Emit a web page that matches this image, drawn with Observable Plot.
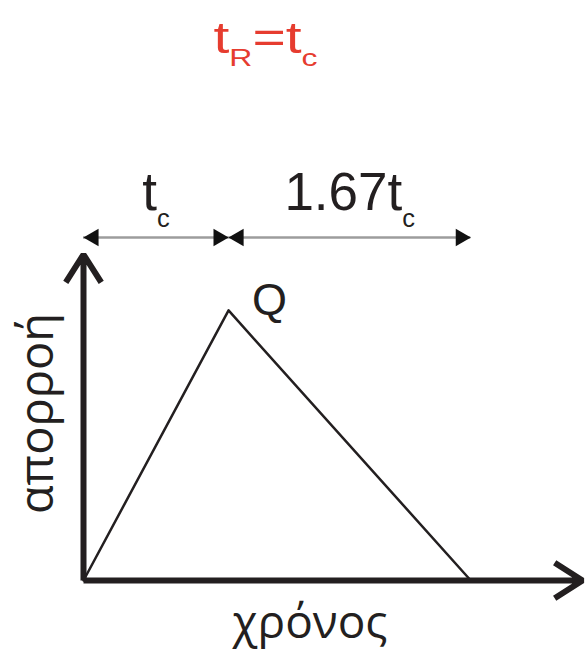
<!DOCTYPE html>
<html><head><meta charset="utf-8">
<script src="https://cdn.jsdelivr.net/npm/d3@7"></script>
<script src="https://cdn.jsdelivr.net/npm/@observablehq/plot@0.6"></script>
<style>html,body{margin:0;padding:0;background:#fff}</style>
</head><body><div id="chart"></div>
<script>
// Triangular hydrograph: time in units of t_c, discharge relative to peak Q
const times = [0, 1, 2.67];
const flows = [0, 1, 0];
// Dimension arrows above the hydrograph
const dimStarts = [0, 1];
const dimEnds = [1, 2.67];
const dimLabels = ["t_c", "1.67t_c"];
// Texts
const titleText = "t_R=t_c";
const peakLabel = "Q";
const xLabel = "χρόνος";
const yLabel = "απορροή";

// axis extents (data units)
const xMax = 3.44, yMax = 1.207;
const dimLevel = 1.27, labelLevel = 1.37;

const hydro = times.map((t, i) => ({t, q: flows[i]}));
const dims = dimStarts.map((s, i) => ({start: s, end: dimEnds[i], label: dimLabels[i]}));
const axes = [
  {x1: 0, y1: 0, x2: xMax, y2: 0},
  {x1: 0, y1: 0, x2: 0, y2: yMax}
];
const ink = "#231f20";

const plot = Plot.plot({
  width: 587, height: 652,
  marginLeft: 83, marginRight: 5, marginTop: 254, marginBottom: 72,
  x: {domain: [0, xMax], axis: null},
  y: {domain: [0, yMax], axis: null},
  style: {background: "#fff", fontFamily: "'Liberation Sans', Arial, sans-serif", color: ink},
  marks: [
    Plot.line(hydro, {x: "t", y: "q", stroke: ink, strokeWidth: 2.5}),
    Plot.arrow(axes, {x1: "x1", y1: "y1", x2: "x2", y2: "y2", stroke: ink, strokeWidth: 6, headLength: 8.25, headAngle: 65, strokeLinecap: "butt", strokeLinejoin: "miter"}),
    Plot.ruleY(dims, {y: () => dimLevel, x1: "start", x2: "end", stroke: "#9c9c9c", strokeWidth: 2.5}),
    Plot.dot(dims, {x: "start", y: () => dimLevel, symbol: "triangle", rotate: -90, dx: 10, r: 6.5, fill: "#111", stroke: "none"}),
    Plot.dot(dims, {x: "end", y: () => dimLevel, symbol: "triangle", rotate: 90, dx: -10, r: 6.5, fill: "#111", stroke: "none"}),
    Plot.text(dims, {x: d => (d.start + d.end) / 2, y: () => labelLevel, text: "label", fontSize: 53, lineAnchor: "bottom", fill: ink, className: "sub"}),
    Plot.text([hydro[1]], {x: "t", y: "q", text: () => peakLabel, fontSize: 45, dx: 41, dy: -10, fill: ink}),
    Plot.text([titleText], {frameAnchor: "top-left", text: d => d, textAnchor: "start", lineAnchor: "bottom", dx: 130, dy: -202, fontSize: 44, fill: "#e63c2f", className: "sub title"}),
    Plot.text([xLabel], {frameAnchor: "bottom", text: d => d, textAnchor: "middle", lineAnchor: "bottom", dx: -23, dy: 57, fontSize: 46, fontFamily: "'Open Sans', sans-serif", fill: ink}),
    Plot.text([yLabel], {frameAnchor: "left", text: d => d, textAnchor: "middle", rotate: -90, lineAnchor: "bottom", dx: -31, dy: -4, fontSize: 47, fontFamily: "'Open Sans', sans-serif", fill: ink})
  ]
});
document.getElementById("chart").appendChild(plot);

// render "_x" as subscripts
plot.querySelectorAll("g.sub text").forEach(t => {
  const s = t.textContent;
  const fs = parseFloat(getComputedStyle(t).fontSize);
  const isTitle = t.parentNode.classList.contains("title");
  const ratio = isTitle ? 0.56 : 0.48;
  const parts = s.split(/_(.)/);
  t.textContent = "";
  let shifted = false;
  parts.forEach((p, i) => {
    if (!p) return;
    const ts = document.createElementNS("http://www.w3.org/2000/svg", "tspan");
    ts.textContent = p;
    if (i % 2 === 1) { ts.setAttribute("font-size", fs * ratio); ts.setAttribute("dy", fs * 0.31); shifted = true; }
    else if (shifted) { ts.setAttribute("dy", -fs * 0.31); shifted = false; }
    t.appendChild(ts);
  });
});
// the title in the reference is drawn horizontally stretched
plot.querySelectorAll("g.title text").forEach(t => {
  t.setAttribute("textLength", 104);
  t.setAttribute("lengthAdjust", "spacingAndGlyphs");
});
</script></body></html>
